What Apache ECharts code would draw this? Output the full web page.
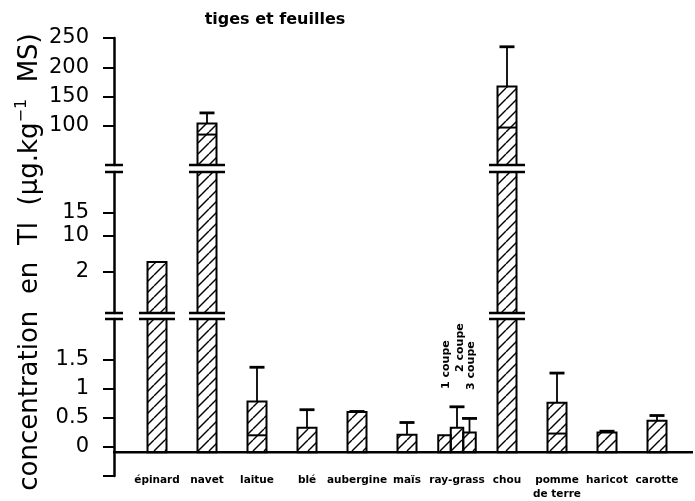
<!DOCTYPE html>
<html>
<head>
<meta charset="utf-8">
<script src="https://cdn.jsdelivr.net/npm/echarts@6/dist/echarts.min.js"></script>
<style>
html, body { margin: 0; background: #fff; }
#chart { width: 695px; height: 501px; }
</style>
</head>
<body>
<div id="chart"></div>
<script>
// values (µg/kg MS)
const categories = ['épinard', 'navet', 'laitue', 'blé', 'aubergine', 'maïs', 'ray-grass', 'chou', 'pomme\nde terre', 'haricot', 'carotte'];
const means = [4.2, 104, 0.78, 0.33, 0.6, 0.21, null, 167, 0.76, 0.25, 0.45];
const errTops = [null, 122, 1.37, 0.64, 0.61, 0.42, null, 235, 1.27, 0.27, 0.54];
const innerLines = [null, 85, 0.2, null, null, null, null, 97, 0.23, null, null];
const rayGrassCuts = ['1 coupe', '2 coupe', '3 coupe'];
const rayGrassMeans = [0.2, 0.33, 0.25];
const rayGrassErr = [null, 0.69, 0.49];
const RAY_INDEX = 6;

const topTicks = [100, 150, 200, 250];
const midTicks = [2, 10, 15];
const lowTicks = [-0.5, 0, 0.5, 1, 1.5];
const lowLabels = [0, 0.5, 1, 1.5];

// broken axis: three stacked segments, top to bottom
const SEG = [
  { top: 38, height: 127, min: 33, max: 250, ticks: topTicks, labels: topTicks },
  { top: 172, height: 141, min: -7.03, max: 24.03, ticks: midTicks, labels: midTicks },
  { top: 319, height: 159, min: -0.5, max: 2.2, ticks: lowTicks, labels: lowLabels }
];
const BASE_VALUE = -0.09; // where the category axis line sits in the lowest segment
const AXIS_X = 114;

function hatch() {
  const s = 11;
  const c = document.createElement('canvas');
  c.width = s; c.height = s;
  const g = c.getContext('2d');
  g.strokeStyle = '#000';
  g.lineWidth = 1.4;
  for (const k of [-1, 0, 1]) {
    g.beginPath();
    g.moveTo(k * s, s);
    g.lineTo(k * s + s, 0);
    g.stroke();
  }
  return c;
}
const HATCH = { image: hatch(), repeat: 'repeat' };

function num(v) {
  return v === null || v === undefined ? '-' : v;
}

// floor: a bar only shows in a segment if it rises above the segment below
function makeBarRender(width, baseValue, floor) {
  return function (params, api) {
    const cs = params.coordSys;
    const top = cs.y;
    const cx = api.coord([api.value(0), 0])[0] + api.value(4) * width;
    const yBase = baseValue === null ? cs.y + cs.height : api.coord([0, baseValue])[1];
    const mean = api.value(1);
    if (isNaN(mean) || mean <= floor) return null;
    const yMean = api.coord([0, mean])[1];
    const y1 = Math.max(top, yMean);
    const children = [{
      type: 'rect',
      shape: { x: cx - width / 2, y: y1, width: width, height: yBase - y1 },
      style: { fill: HATCH, stroke: '#000', lineWidth: 2 }
    }];
    const inner = api.value(3);
    if (!isNaN(inner)) {
      const yi = api.coord([0, inner])[1];
      if (yi > top && yi < yBase) {
        children.push({
          type: 'line',
          shape: { x1: cx - width / 2, y1: yi, x2: cx + width / 2, y2: yi },
          style: { stroke: '#000', lineWidth: 2 }
        });
      }
    }
    const err = api.value(2);
    if (!isNaN(err) && yMean >= top) {
      const ye = api.coord([0, err])[1];
      if (ye >= top) {
        children.push({
          type: 'line',
          shape: { x1: cx, y1: yMean, x2: cx, y2: ye },
          style: { stroke: '#000', lineWidth: 1.8 }
        });
        children.push({
          type: 'line',
          shape: { x1: cx - 7.5, y1: ye, x2: cx + 7.5, y2: ye },
          style: { stroke: '#000', lineWidth: 2.8 }
        });
      }
    }
    return { type: 'group', children: children };
  };
}

const mainData = [];
categories.forEach((c, i) => {
  if (means[i] !== null) {
    mainData.push([i, means[i], num(errTops[i]), num(innerLines[i]), 0]);
  }
});
const rayData = rayGrassMeans.map((v, k) => [RAY_INDEX, v, num(rayGrassErr[k]), '-', k - 1]);

const chart = echarts.init(document.getElementById('chart'));

const grids = SEG.map(s => ({ left: 132, right: 13, top: s.top, height: s.height }));
const yAxes = SEG.map((s, k) => ({
  type: 'value',
  gridIndex: k,
  min: s.min,
  max: s.max,
  offset: 132 - AXIS_X,
  axisLine: { show: true, lineStyle: { color: '#000', width: 2.5 } },
  axisTick: { show: true, customValues: s.ticks, length: 11, lineStyle: { color: '#000', width: 2 } },
  axisLabel: { customValues: s.labels, margin: 25, fontSize: 21, color: '#000', fontFamily: 'DejaVu Sans' },
  splitLine: { show: false }
}));
const xAxes = [
  { type: 'category', gridIndex: 0, data: categories, show: false },
  { type: 'category', gridIndex: 1, data: categories, show: false },
  {
    type: 'category', gridIndex: 2, data: categories, offset: -24,
    axisLine: { show: false, onZero: false },
    axisTick: { alignWithLabel: true, length: 9, lineStyle: { color: '#000', width: 1.5 } },
    axisLabel: { interval: 0, margin: 21, fontSize: 10.5, fontWeight: 'bold', color: '#000', lineHeight: 14, fontFamily: 'DejaVu Sans' }
  }
];

const series = SEG.map((s, k) => ({
  type: 'custom',
  xAxisIndex: k,
  yAxisIndex: k,
  encode: { x: 0, y: 1 },
  renderItem: makeBarRender(19, k === 2 ? BASE_VALUE : null, k < 2 ? SEG[k + 1].max : -Infinity),
  data: mainData
}));
series.push({
  type: 'custom',
  xAxisIndex: 2,
  yAxisIndex: 2,
  encode: { x: 0, y: 1 },
  renderItem: makeBarRender(12.5, BASE_VALUE, -Infinity),
  data: rayData
});

chart.setOption({
  animation: false,
  grid: grids,
  xAxis: xAxes,
  yAxis: yAxes,
  series: series
});

// decorations: titles, category baseline, break marks, cut labels
const graphic = [
  {
    type: 'text', x: 275, y: 20,
    style: { text: 'tiges et feuilles', font: 'bold 16px "DejaVu Sans"', fill: '#000', align: 'center', verticalAlign: 'middle' }
  },
  {
    type: 'text', x: 30, y: 262, rotation: Math.PI / 2,
    style: {
      text: '{a|concentration  en  Tl  (µg.kg}{s|−1}{a|  MS)}',
      align: 'center', verticalAlign: 'middle',
      rich: {
        a: { fontSize: 26, fontFamily: 'DejaVu Sans', fill: '#000', lineHeight: 32 },
        s: { fontSize: 16, fontFamily: 'DejaVu Sans', fill: '#000', verticalAlign: 'top', lineHeight: 32 }
      }
    }
  }
];
const yLine = chart.convertToPixel({ yAxisIndex: 2 }, BASE_VALUE);
graphic.push({
  type: 'line', shape: { x1: AXIS_X - 1, y1: yLine, x2: 693, y2: yLine },
  style: { stroke: '#000', lineWidth: 2.5 }
});
for (let b = 0; b < 2; b++) {
  const yA = SEG[b].top + SEG[b].height;
  const yB = SEG[b + 1].top;
  const segMax = SEG[b + 1].max;
  const spans = [[AXIS_X, 9]];
  means.forEach((v, i) => {
    if (v !== null && v > segMax) {
      spans.push([chart.convertToPixel({ xAxisIndex: 2 }, i), 18]);
    }
  });
  spans.forEach(([x, h]) => {
    [yA, yB].forEach(y => {
      graphic.push({
        type: 'line', shape: { x1: x - h, y1: y, x2: x + h, y2: y },
        style: { stroke: '#000', lineWidth: 2.5 }
      });
    });
  });
}
const xRay = chart.convertToPixel({ xAxisIndex: 2 }, RAY_INDEX);
const cutDx = [-11, 3, 14];
const cutY = [389, 372, 390];
rayGrassCuts.forEach((t, k) => {
  graphic.push({
    type: 'text', x: xRay + cutDx[k], y: cutY[k], rotation: Math.PI / 2,
    style: { text: t, font: 'bold 11px "DejaVu Sans"', fill: '#000', align: 'left', verticalAlign: 'middle' }
  });
});
chart.setOption({ graphic: graphic });
</script>
</body>
</html>
